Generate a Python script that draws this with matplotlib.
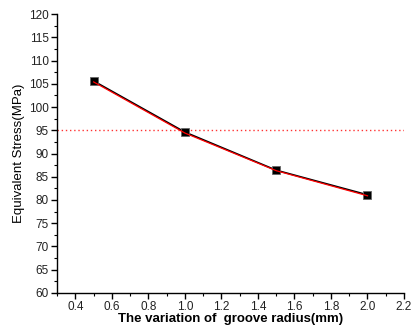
import matplotlib
matplotlib.use("Agg")
import matplotlib.pyplot as plt
from matplotlib.ticker import MultipleLocator

plt.rcParams['font.family'] = ['Liberation Sans', 'DejaVu Sans']

radius = [0.5, 1.0, 1.5, 2.0]
stress_black = [105.6, 94.6, 86.4, 81.1]
stress_red = [105.4, 94.4, 86.3, 80.9]
limit = 95

fig = plt.figure(figsize=(4.11, 3.28), dpi=100)
ax = fig.add_axes([0.139, 0.107, 0.844, 0.850])

ax.plot(radius, stress_black, color='black', lw=1.2, marker='s', ms=5.8,
        mfc='black', mec='#666666', mew=0.6, zorder=3)
ax.plot(radius, stress_red, color='red', lw=0.9, zorder=4)
ax.axhline(limit, color='#ff3333', ls=(0, (1, 2)), lw=1.0, zorder=2)

ax.set_xlim(0.3, 2.2)
ax.set_ylim(60, 120)
ax.xaxis.set_minor_locator(MultipleLocator(0.1))
ax.yaxis.set_major_locator(MultipleLocator(5))
ax.yaxis.set_minor_locator(MultipleLocator(2.5))
ax.set_xticks([0.4, 0.6, 0.8, 1.0, 1.2, 1.4, 1.6, 1.8, 2.0, 2.2])
ax.set_xticklabels(['0.4', '0.6', '0.8', '1.0', '1.2', '1.4', '1.6', '1.8', '2.0', '2.2'])

for s in ['top', 'right']:
    ax.spines[s].set_visible(False)
for s in ['left', 'bottom']:
    ax.spines[s].set_linewidth(1.0)

ax.tick_params(which='major', direction='out', length=4, width=1.0, labelsize=8.5, pad=2,
               labelcolor='#222222')
ax.tick_params(which='minor', direction='out', length=2.5, width=0.8)

ax.set_xlabel('The variation of  groove radius(mm)', fontsize=9.5, fontweight='bold', labelpad=0)
ax.set_ylabel('Equivalent Stress(MPa)', fontsize=9.5, labelpad=3)

fig.savefig('out.png', dpi=100)
